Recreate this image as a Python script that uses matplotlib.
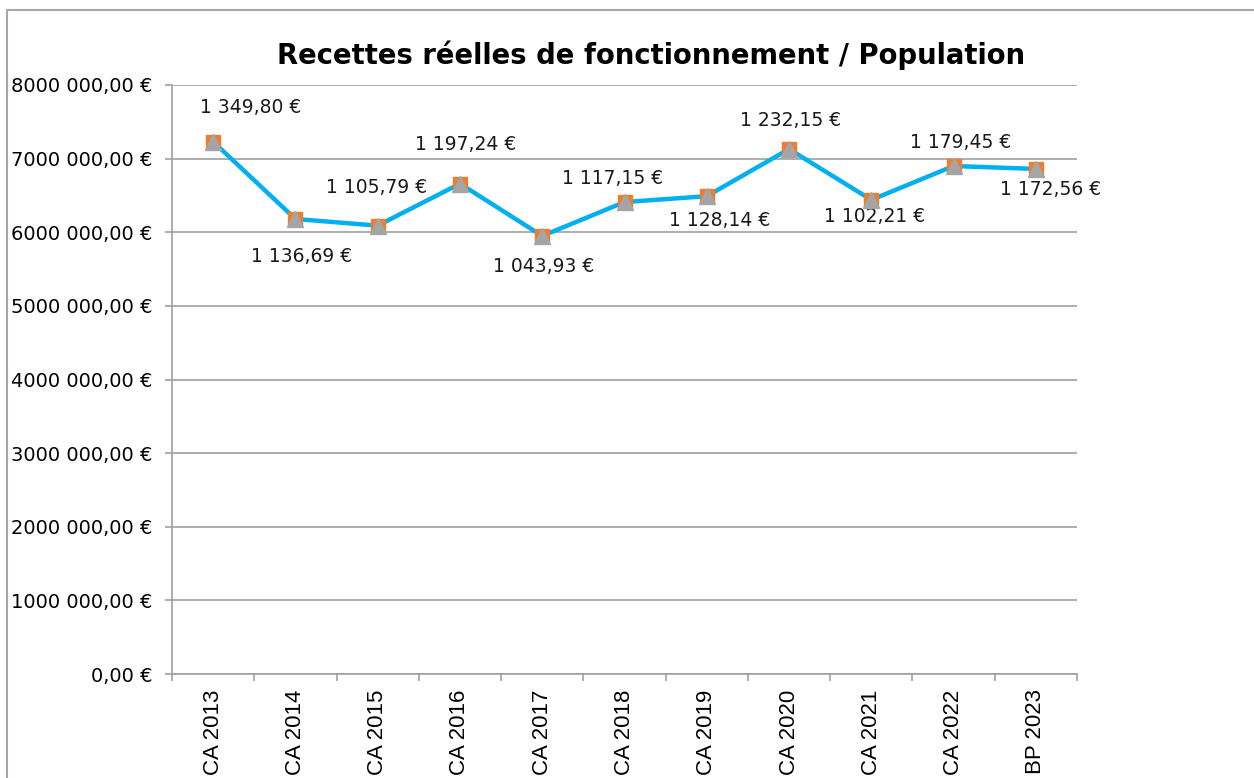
# Recettes réelles de fonctionnement / Population
import matplotlib.pyplot as plt
from matplotlib.patches import Rectangle

plt.rcParams['font.family'] = ['DejaVu Sans']

annees = ['CA 2013', 'CA 2014', 'CA 2015', 'CA 2016', 'CA 2017', 'CA 2018',
          'CA 2019', 'CA 2020', 'CA 2021', 'CA 2022', 'BP 2023']
recettes = [7230000, 6180000, 6090000, 6660000, 5950000, 6410000,
            6490000, 7130000, 6440000, 6900000, 6860000]
par_habitant = ['1 349,80 €', '1 136,69 €', '1 105,79 €', '1 197,24 €', '1 043,93 €', '1 117,15 €',
                '1 128,14 €', '1 232,15 €', '1 102,21 €', '1 179,45 €', '1 172,56 €']
y_ticks = [0, 1000000, 2000000, 3000000, 4000000, 5000000, 6000000, 7000000, 8000000]
y_labels = ['0,00 €', '1000 000,00 €', '2000 000,00 €', '3000 000,00 €', '4000 000,00 €',
            '5000 000,00 €', '6000 000,00 €', '7000 000,00 €', '8000 000,00 €']

# decalage des etiquettes (pixels)
decal = [(37, 34), (6, -38), (-1, 38), (6, 39), (1, -31), (-12, 24),
         (13, -24), (2, 29), (3, -17), (7, 23), (15, -21)]

fig = plt.figure(figsize=(12.54, 7.78), dpi=100)
fig.patches.append(Rectangle((7 / 1254, -0.1), 1.2, 1.1 - 10 / 778, transform=fig.transFigure,
                             fill=False, edgecolor='#a6a6a6', linewidth=1.5))
ax = fig.add_axes([172 / 1254, 1 - 674 / 778, (1077 - 172) / 1254, (674 - 85) / 778])

x = list(range(len(annees)))
ax.plot(x, recettes, color='#00b0f0', linewidth=3.2, zorder=3)
ax.plot(x, recettes, linestyle='none', marker='s', markersize=10, color='#ed7d31', zorder=4)
ax.plot(x, recettes, linestyle='none', marker='^', markersize=11, color='#a5a5a5', zorder=5)

for i in x:
    ax.annotate(par_habitant[i], (i, recettes[i]), xytext=(decal[i][0] * 0.72, decal[i][1] * 0.72),
                textcoords='offset points', ha='center', va='center', fontsize=13.5, color='#1a1a1a')

ax.set_xlim(-0.5, len(annees) - 0.5)
ax.set_ylim(0, 8000000)
ax.set_yticks(y_ticks)
ax.set_yticklabels(y_labels, fontsize=14)
ax.grid(axis='y', color='#a0a0a0', linewidth=1.2)
ax.set_axisbelow(True)

ax.set_xticks([i - 0.5 for i in range(len(annees) + 1)])
ax.set_xticklabels([])
ax.set_xticks(x, minor=True)
ax.set_xticklabels(annees, minor=True, rotation=90, fontsize=16, family='Liberation Sans')
ax.tick_params(axis='x', which='major', length=5, color='#a0a0a0', width=1.2)
ax.tick_params(axis='x', which='minor', length=0, pad=11)
ax.tick_params(axis='y', length=5, color='#a0a0a0', width=1.2, pad=9)

for s in ['top', 'right']:
    ax.spines[s].set_visible(False)
for s in ['left', 'bottom']:
    ax.spines[s].set_color('#a0a0a0')
    ax.spines[s].set_linewidth(1.2)

fig.text(651 / 1254, 1 - 55 / 778, 'Recettes réelles de fonctionnement / Population',
         ha='center', va='center', fontsize=19.8, fontweight='bold')

fig.savefig('out.png', dpi=100)
